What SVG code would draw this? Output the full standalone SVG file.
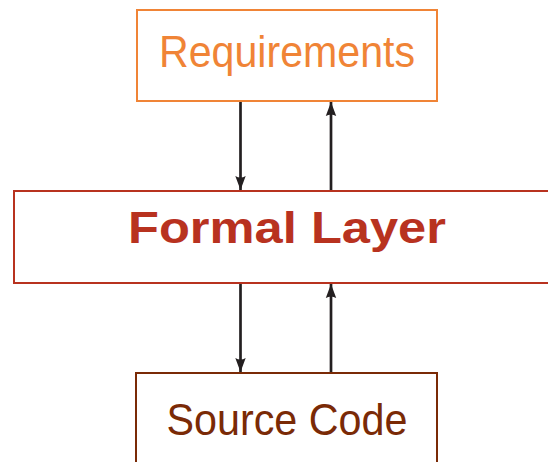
<svg xmlns="http://www.w3.org/2000/svg" width="548" height="462" viewBox="0 0 548 462">
<defs>
<style>
.box{fill:#fff;stroke-width:2}
.lbl{font-family:"Liberation Sans",Arial,sans-serif;font-size:44px;text-anchor:middle}
.conn{stroke:#231f20;stroke-width:2.7;fill:none;marker-end:url(#tip)}
</style>
<marker id="tip" markerUnits="userSpaceOnUse" markerWidth="16" markerHeight="12" viewBox="0 0 16 12" refX="14" refY="6" orient="auto">
<path d="M0,0.8 Q3,6 0,11.2 L14,6 Z" fill="#231f20"/>
</marker>
</defs>
<rect width="548" height="462" fill="#fff"/>
<g id="requirements">
<rect class="box" x="137" y="10" width="300" height="91" stroke="#f08436"/>
<text class="lbl" x="287" y="67" fill="#f08436" textLength="256" lengthAdjust="spacingAndGlyphs">Requirements</text>
</g>
<g id="formal-layer">
<rect class="box" x="14" y="191" width="548" height="92" stroke="#b8321f"/>
<text class="lbl" x="287" y="243" fill="#b8321f" font-weight="bold" font-size="42" textLength="318" lengthAdjust="spacingAndGlyphs">Formal Layer</text>
</g>
<g id="source-code">
<rect class="box" x="136" y="373" width="301" height="100" stroke="#7a2a06"/>
<text class="lbl" x="287" y="435" fill="#7a2a06" textLength="241" lengthAdjust="spacingAndGlyphs">Source Code</text>
</g>
<g id="connectors">
<line class="conn" x1="240.5" y1="102" x2="240.5" y2="190"/>
<line class="conn" x1="331" y1="190" x2="331" y2="102"/>
<line class="conn" x1="240.5" y1="284" x2="240.5" y2="372"/>
<line class="conn" x1="331" y1="372" x2="331" y2="284"/>
</g>
</svg>
